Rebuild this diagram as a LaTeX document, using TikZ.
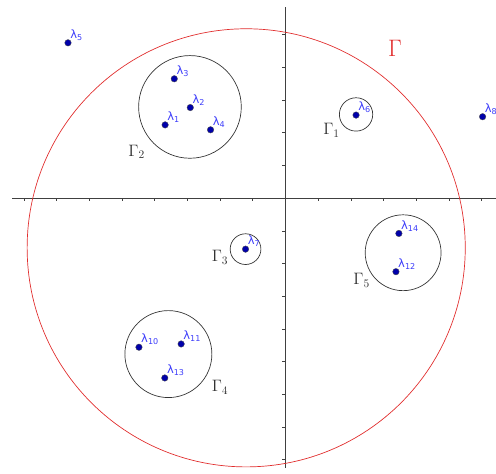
\documentclass[tikz,border=0pt]{standalone}
\usepackage{fontspec}
\newfontfamily\eigfont{DejaVu Sans}
\definecolor{eigdot}{RGB}{0,0,170}
\definecolor{eigblue}{RGB}{60,60,250}
\definecolor{gammared}{RGB}{225,45,45}
\newcommand{\eig}[1]{λ\textsubscript{#1}}
\begin{document}
\begin{tikzpicture}[
        eig/.style={circle, fill=eigdot, draw=black!70, line width=0.3pt, inner sep=0pt, minimum size=2mm},
        eiglabel/.style={text=eigblue, inner sep=0pt, label distance=-0.5pt, font=\eigfont\fontsize{10}{12}\selectfont},
        contour/.style={circle, draw=black!80, line width=0.6pt, inner sep=0pt},
        gamlabel/.style={text=black!80, font=\Large, inner sep=0pt}
    ]
    \useasboundingbox (-8.73,-8.41) rectangle (6.44,6.06);

    % axes
    \draw[black!75, line width=0.7pt] (-8.36,0) -- (6.44,0);
    \draw[black!75, line width=0.7pt] (0,-8.26) -- (0,5.84);
    \foreach \x in {-8,...,6}
        \draw[black!75, line width=0.5pt] (\x,0) -- (\x,-0.1);
    \foreach \y in {-8,...,5}
        \draw[black!75, line width=0.5pt] (0,\y) -- (-0.1,\y);

    % big contour
    \draw[gammared, line width=0.6pt] (-1.2,-1.52) circle (6.7);
    \node[text=gammared, font=\huge, inner sep=0pt] (gam) at (3.35,4.59) {$\Gamma$};

    % small contours
    \node[contour, minimum size=1.02cm] (c1) at (2.16,2.56) {};
    \node[contour, minimum size=3.14cm] (c2) at (-2.92,2.79) {};
    \node[contour, minimum size=0.94cm] (c3) at (-1.22,-1.56) {};
    \node[contour, minimum size=2.66cm] (c4) at (-3.58,-4.77) {};
    \node[contour, minimum size=2.32cm] (c5) at (3.60,-1.67) {};
    \node[gamlabel] (g1) at (1.41,2.08) {$\Gamma_1$};
    \node[gamlabel] (g2) at (-4.55,1.42) {$\Gamma_2$};
    \node[gamlabel] (g3) at (-2.0,-1.81) {$\Gamma_3$};
    \node[gamlabel] (g4) at (-2.0,-5.79) {$\Gamma_4$};
    \node[gamlabel] (g5) at (2.33,-2.51) {$\Gamma_5$};

    % eigenvalues
    \node[eig, label={[eiglabel]45:\eig{1}}] (l1) at (-3.68,2.24) {};
    \node[eig, label={[eiglabel]45:\eig{2}}] (l2) at (-2.91,2.77) {};
    \node[eig, label={[eiglabel]45:\eig{3}}] (l3) at (-3.40,3.65) {};
    \node[eig, label={[eiglabel]45:\eig{4}}] (l4) at (-2.29,2.09) {};
    \node[eig, label={[eiglabel]45:\eig{5}}] (l5) at (-6.65,4.75) {};
    \node[eig, label={[eiglabel]45:\eig{6}}] (l6) at (2.16,2.54) {};
    \node[eig, label={[eiglabel]45:\eig{7}}] (l7) at (-1.22,-1.56) {};
    \node[eig, label={[eiglabel]45:\eig{8}}] (l8) at (6.03,2.49) {};
    \node[eig, label={[eiglabel]45:\eig{10}}] (l10) at (-4.48,-4.56) {};
    \node[eig, label={[eiglabel]45:\eig{11}}] (l11) at (-3.19,-4.46) {};
    \node[eig, label={[eiglabel]45:\eig{12}}] (l12) at (3.38,-2.25) {};
    \node[eig, label={[eiglabel]45:\eig{13}}] (l13) at (-3.69,-5.50) {};
    \node[eig, label={[eiglabel]45:\eig{14}}] (l14) at (3.47,-1.08) {};
\end{tikzpicture}
\end{document}
